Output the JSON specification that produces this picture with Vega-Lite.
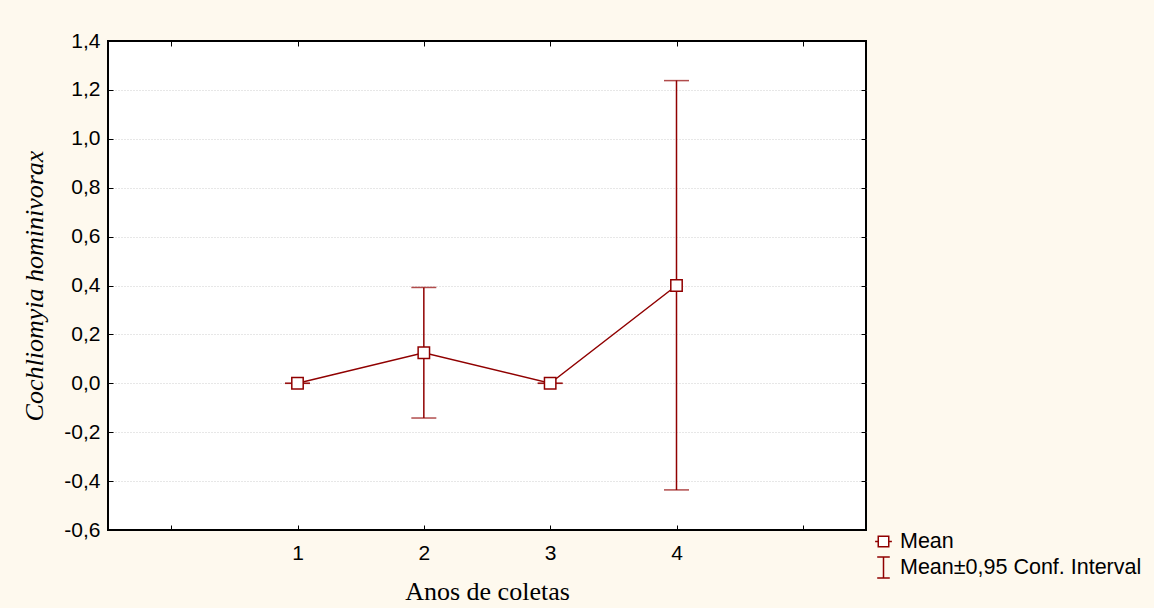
{
  "$schema": "https://vega.github.io/schema/vega-lite/v6.json",
  "width": 758,
  "height": 489,
  "autosize": {"type": "none"},
  "padding": {"left": 108, "top": 41, "right": 288, "bottom": 78},
  "background": "#FEF9EE",
  "config": {
    "view": {"fill": "white", "stroke": "black", "strokeWidth": 2}
  },
  "data": {
    "values": [
      {"year": 1, "mean": 0, "lo": 0, "hi": 0},
      {"year": 2, "mean": 0.125, "lo": -0.142, "hi": 0.392},
      {"year": 3, "mean": 0, "lo": 0, "hi": 0},
      {"year": 4, "mean": 0.4, "lo": -0.436, "hi": 1.238}
    ]
  },
  "layer": [
    {
      "mark": {"type": "point", "opacity": 0},
      "encoding": {
        "x": {
          "field": "year", "type": "quantitative",
          "scale": {"domain": [-0.5, 5.5], "nice": false, "zero": false},
          "axis": {"orient": "top", "values": [0, 1, 2, 3, 4, 5], "labels": false, "title": null, "grid": false, "domain": false, "tickColor": "black", "tickSize": -5, "tickWidth": 1}
        },
        "y": {
          "field": "mean", "type": "quantitative",
          "scale": {"domain": [-0.6, 1.4], "nice": false, "zero": false},
          "axis": {
            "orient": "right", "values": [-0.4, -0.2, 0, 0.2, 0.4, 0.6, 0.8, 1.0, 1.2],
            "labels": false, "title": null, "domain": false, "tickColor": "black", "tickSize": -5, "tickWidth": 1,
            "grid": true, "gridColor": "#cfcfcf", "gridDash": [1, 2], "gridWidth": 1
          }
        }
      }
    },
    {
      "mark": {"type": "rule", "color": "#900000", "strokeWidth": 1.5},
      "encoding": {
        "x": {
          "field": "year", "type": "quantitative",
          "axis": {
            "orient": "bottom", "values": [0, 1, 2, 3, 4, 5], "grid": false, "domain": false,
            "tickColor": "black", "tickSize": -5, "tickWidth": 1,
            "labelExpr": "datum.value >= 1 && datum.value <= 4 ? datum.label : ''",
            "labelFont": "Liberation Sans", "labelFontSize": 21, "labelColor": "black", "labelPadding": 17,
            "title": "Anos de coletas", "titleFont": "Liberation Serif", "titleFontSize": 26,
            "titleFontWeight": "normal", "titleColor": "black", "titlePadding": 15
          }
        },
        "y": {
          "field": "lo", "type": "quantitative",
          "axis": {
            "orient": "left",
            "values": [-0.6, -0.4, -0.2, 0, 0.2, 0.4, 0.6, 0.8, 1.0, 1.2, 1.4],
            "labelExpr": "replace(replace(format(datum.value, '.1f'), '.', ','), '\u2212', '-')",
            "grid": false, "domain": false, "tickColor": "black", "tickSize": -5, "tickWidth": 1,
            "labelFont": "Liberation Sans", "labelFontSize": 21, "labelColor": "black", "labelPadding": 13,
            "title": "Cochliomyia hominivorax", "titleFont": "Liberation Serif", "titleFontSize": 26,
            "titleFontWeight": "normal", "titleFontStyle": "italic", "titleColor": "black", "titlePadding": 16
          }
        },
        "y2": {"field": "hi"}
      }
    },
    {
      "mark": {"type": "tick", "orient": "horizontal", "size": 25, "thickness": 1.5, "color": "#900000"},
      "encoding": {
        "x": {"field": "year", "type": "quantitative", "axis": null},
        "y": {"field": "lo", "type": "quantitative", "axis": null}
      }
    },
    {
      "mark": {"type": "tick", "orient": "horizontal", "size": 25, "thickness": 1.5, "color": "#900000"},
      "encoding": {
        "x": {"field": "year", "type": "quantitative", "axis": null},
        "y": {"field": "hi", "type": "quantitative", "axis": null}
      }
    },
    {
      "mark": {"type": "line", "color": "#900000", "strokeWidth": 1.5},
      "encoding": {
        "x": {"field": "year", "type": "quantitative", "axis": null},
        "y": {"field": "mean", "type": "quantitative", "axis": null}
      }
    },
    {
      "mark": {"type": "point", "shape": "square", "filled": true, "fill": "white", "stroke": "#900000", "strokeWidth": 1.5, "size": 130, "opacity": 1},
      "encoding": {
        "x": {"field": "year", "type": "quantitative", "axis": null},
        "y": {"field": "mean", "type": "quantitative", "axis": null}
      }
    },
    {
      "transform": [{"filter": "false"}],
      "mark": {"type": "point", "filled": true, "fill": "white", "stroke": "#900000", "strokeWidth": 1.5, "opacity": 1},
      "encoding": {
        "x": {"field": "year", "type": "quantitative", "axis": null},
        "y": {"field": "mean", "type": "quantitative", "axis": null},
        "shape": {
          "field": "series", "type": "nominal",
          "scale": {
            "domain": ["Mean", "Mean±0,95 Conf. Interval"],
            "range": ["M-0.8,0H-0.5M0.5,0H0.8M-0.5,-0.5H0.5V0.5H-0.5Z", "M-0.6,-1H0.6M0,-1V1M-0.6,1H0.6"]
          },
          "legend": {
            "title": null, "orient": "none", "legendX": 764, "legendY": 489,
            "labelFont": "Liberation Sans", "labelFontSize": 21.5, "labelColor": "black", "labelLimit": 0,
            "symbolSize": 440, "rowPadding": 2, "labelOffset": 5,
            "encode": {
              "symbols": {
                "update": {
                  "fill": {"value": "white"},
                  "stroke": {"value": "#900000"},
                  "strokeWidth": {"value": 1.5},
                  "opacity": {"value": 1}
                }
              }
            }
          }
        }
      }
    }
  ],
  "resolve": {"axis": {"x": "independent", "y": "independent"}}
}
